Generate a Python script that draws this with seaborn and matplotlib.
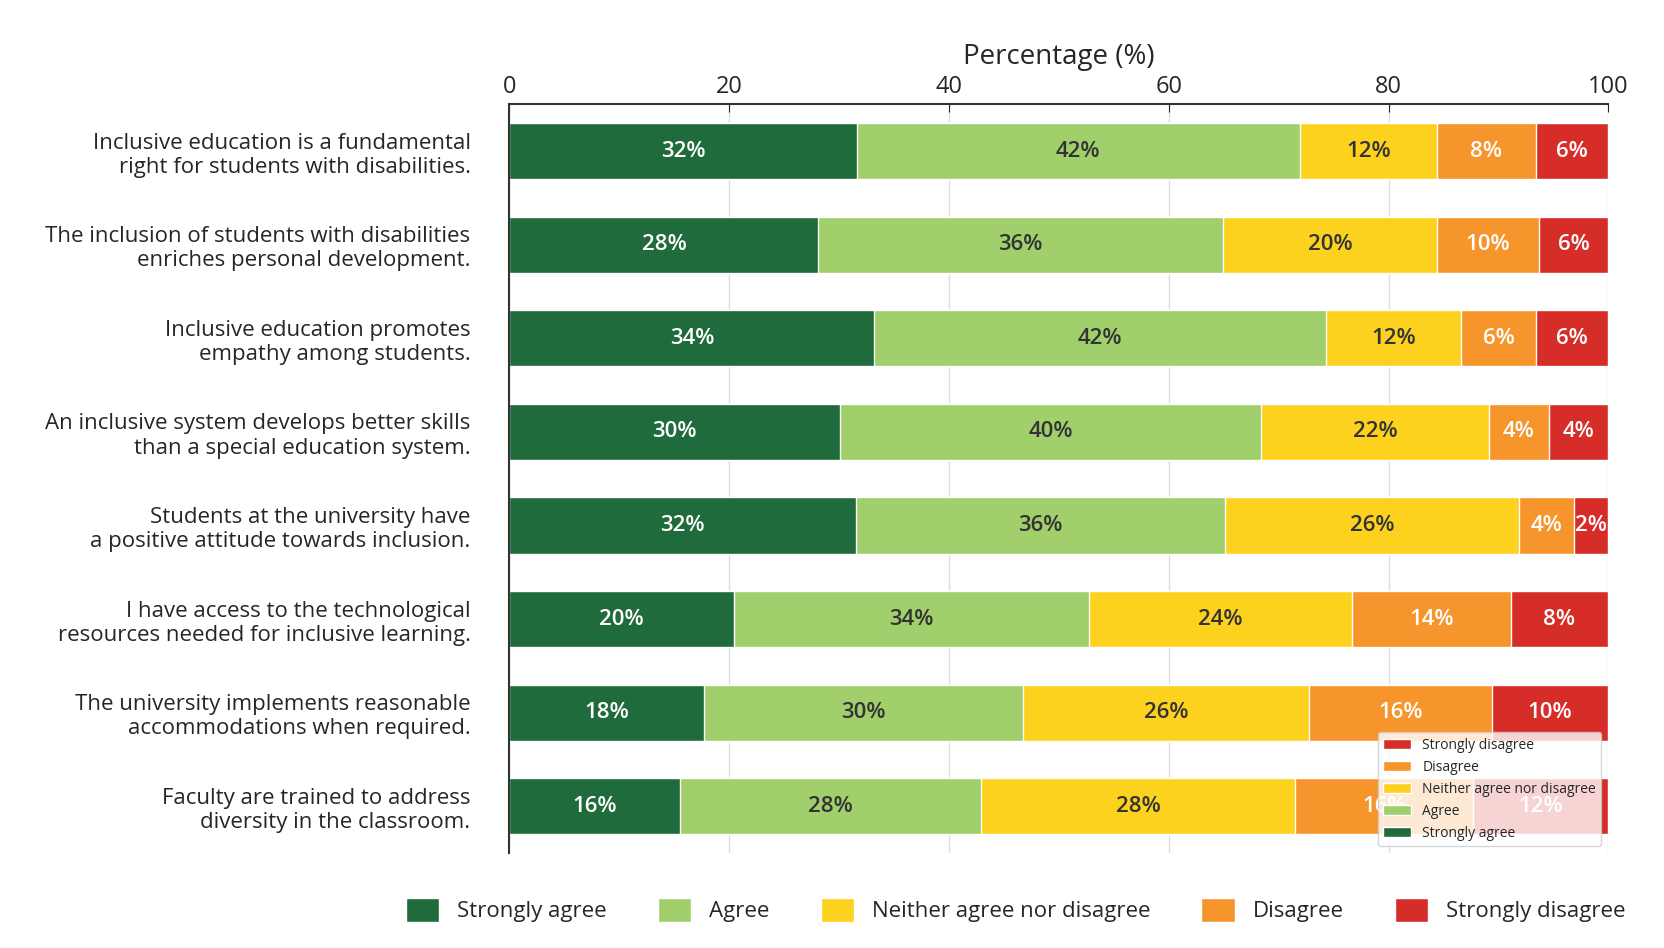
import numpy as np
import pandas as pd
import seaborn as sns
import matplotlib.pyplot as plt

statements = [
    "Inclusive education is a fundamental\nright for students with disabilities.",
    "The inclusion of students with disabilities\nenriches personal development.",
    "Inclusive education promotes\nempathy among students.",
    "An inclusive system develops better skills\nthan a special education system.",
    "Students at the university have\na positive attitude towards inclusion.",
    "I have access to the technological\nresources needed for inclusive learning.",
    "The university implements reasonable\naccommodations when required.",
    "Faculty are trained to address\ndiversity in the classroom.",
]
categories = ["Strongly agree", "Agree", "Neither agree nor disagree", "Disagree", "Strongly disagree"]
colors = ["#1f6b3b", "#a0cf6b", "#fcd21e", "#f6952b", "#d62d28"]

# segment widths as drawn
strongly_agree = [31.6, 28.1, 33.2, 30.1, 31.5, 20.4, 17.7, 15.5]
agree = [40.3, 36.8, 41.1, 38.3, 33.6, 32.3, 29.0, 27.4]
neutral = [12.5, 19.5, 12.3, 20.7, 26.8, 24.0, 26.1, 28.6]
disagree = [9.0, 9.3, 6.8, 5.5, 5.0, 14.4, 16.6, 16.2]
strongly_disagree = [6.6, 6.3, 6.6, 5.4, 3.1, 8.9, 10.6, 12.3]

# printed labels
lab_sa = [32, 28, 34, 30, 32, 20, 18, 16]
lab_a = [42, 36, 42, 40, 36, 34, 30, 28]
lab_n = [12, 20, 12, 22, 26, 24, 26, 28]
lab_d = [8, 10, 6, 4, 4, 14, 16, 16]
lab_sd = [6, 6, 6, 4, 2, 8, 10, 12]

widths = np.array([strongly_agree, agree, neutral, disagree, strongly_disagree])
labels = [lab_sa, lab_a, lab_n, lab_d, lab_sd]
cum = widths.cumsum(axis=0)
cum = cum / cum[-1] * 100

sns.set_style("white")
plt.rcParams['font.family'] = ['Open Sans', 'DejaVu Sans']
fig, ax = plt.subplots(figsize=(16.65, 9.48), dpi=100)

# draw cumulative bars from largest to smallest to stack them
for i in range(4, -1, -1):
    df = pd.DataFrame({"statement": statements, "value": cum[i]})
    sns.barplot(data=df, x="value", y="statement", color=colors[i], width=0.6,
                saturation=1, ax=ax, orient="h", label=categories[i])

for i in range(5):
    left = cum[i - 1] if i > 0 else np.zeros(len(statements))
    for j in range(len(statements)):
        xc = (left[j] + cum[i][j]) / 2
        tc = "white" if i in (0, 3, 4) else "#333333"
        ax.text(xc, j, f"{labels[i][j]}%", ha="center", va="center", fontsize=16,
                color=tc, fontweight="semibold")

ax.set_xlim(0, 100)
ax.xaxis.tick_top()
ax.xaxis.set_label_position("top")
ax.set_xlabel("Percentage (%)", fontsize=20, labelpad=8)
ax.set_ylabel("")
ax.set_xticks([0, 20, 40, 60, 80, 100])
ax.tick_params(axis="x", labelsize=17, length=6, direction="in", top=True)
ax.tick_params(axis="y", labelsize=16, length=0, pad=28)
for lbl in ax.get_yticklabels():
    lbl.set_horizontalalignment("right")
ax.grid(axis="x", color="#dddddd", linewidth=1)
ax.set_axisbelow(True)
for s in ["right", "bottom"]:
    ax.spines[s].set_visible(False)
for s in ["left", "top"]:
    ax.spines[s].set_color("#333333")
    ax.spines[s].set_linewidth(1.5)

handles, labs = ax.get_legend_handles_labels()
order = [labs.index(c) for c in categories]
fig.legend([handles[k] for k in order], categories, loc="center",
           bbox_to_anchor=(0.61, 0.04), ncol=5, frameon=False, fontsize=16,
           handlelength=1.5, handleheight=1.3, columnspacing=2.3)

plt.subplots_adjust(left=0.306, right=0.966, top=0.89, bottom=0.1)
plt.savefig("out.png", dpi=100)
